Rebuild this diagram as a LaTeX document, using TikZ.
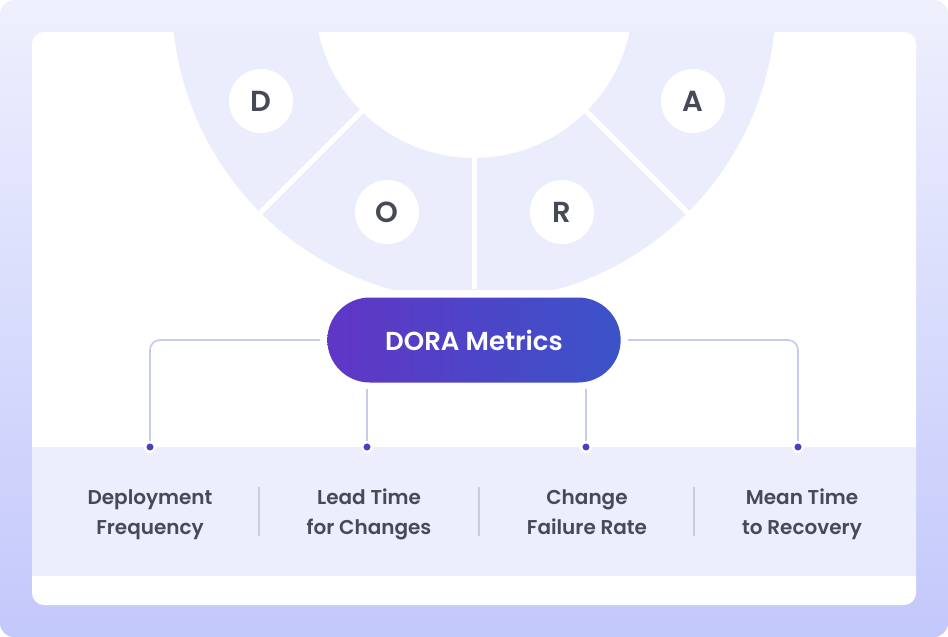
\documentclass[tikz,border=0pt]{standalone}
\usepackage{fontspec}
\setmainfont{Poppins}
\newfontfamily\semifont{Poppins SemiBold}
\usetikzlibrary{shapes.misc, calc, positioning}

\definecolor{bgtop}{HTML}{EEF0FD}
\definecolor{bgbot}{HTML}{C3C8FB}
\definecolor{ringc}{HTML}{EBEDFC}
\definecolor{bandc}{HTML}{ECEEFD}
\definecolor{ink}{HTML}{464A56}
\definecolor{linkc}{HTML}{C6CAEB}
\definecolor{dotc}{HTML}{4A3FC2}
\definecolor{sepc}{HTML}{C9CCD9}
\definecolor{pillL}{HTML}{6036C6}
\definecolor{pillR}{HTML}{3B53C8}

\begin{document}
\begin{tikzpicture}[x=1pt, y=-1pt,
    letter/.style={circle, fill=white, minimum size=64pt, inner sep=0pt, text=ink,
      font=\semifont\fontsize{29}{29}\selectfont},
    pill/.style={rounded rectangle, minimum width=300pt, minimum height=85pt,
      left color=pillL, right color=pillR, text=white,
      font=\semifont\fontsize{26}{26}\selectfont},
    metric/.style={align=center, inner sep=0pt, text=ink,
      font=\semifont\fontsize{20}{30}\selectfont},
    dot/.style={circle, fill=dotc, draw=white, line width=2.5pt, minimum size=10pt, inner sep=0pt},
    link/.style={draw=linkc, line width=1.6pt, rounded corners=10pt},
    gap/.style={draw=white, line width=5pt},
    sep/.style={draw=sepc, line width=1.4pt}]
    \useasboundingbox (0,0) rectangle (948,637);
    \fill[white] (0,0) rectangle (948,637);
    \shade[top color=bgtop, bottom color=bgbot, rounded corners=14pt] (0,0) rectangle (948,637);
    \fill[white, rounded corners=12pt] (32,32) rectangle (916,605);

    % the half ring
    \coordinate (hub) at (474,-1);
    \begin{scope}
        \clip (32,32) rectangle (916,289);
        \fill[ringc, even odd rule] (hub) circle[radius=302] (hub) circle[radius=159];
    \end{scope}
    \draw[gap] (hub) ++(135:150) -- ++(135:165);
    \draw[gap] (hub) ++(45:150) -- ++(45:165);
    \draw[gap] (hub) ++(90:150) -- ++(90:140);

    \node[letter] (Nd) at (261,101) {D};
    \node[letter] (No) at (387,212) {O};
    \node[letter] (Nr) at (562,212) {R};
    \node[letter] (Na) at (693,101) {A};

    \node[pill] (dora) at (474,340) {DORA Metrics};

    % bottom band
    \fill[bandc] (32,447) rectangle (916,576);
    \foreach \x in {259,479,694}
        \draw[sep] (\x,487) -- (\x,536);

    \node[dot] (dot1) at (150,447) {};
    \node[dot] (dot2) at (367,447) {};
    \node[dot] (dot3) at (586,447) {};
    \node[dot] (dot4) at (798,447) {};

    \draw[link] ([xshift=-7pt]dora.west) -| (dot1);
    \draw[link] ([xshift=7pt]dora.east) -| (dot4);
    \draw[link] ([yshift=-6pt]dot2 |- dora.south) -- (dot2);
    \draw[link] ([yshift=-6pt]dot3 |- dora.south) -- (dot3);

    \node[metric] (m1) at (150,513) {\strut Deployment\\Frequency\strut};
    \node[metric] (m2) at (369,513) {\strut Lead Time\\for Changes\strut};
    \node[metric] (m3) at (587,513) {\strut Change\\Failure Rate\strut};
    \node[metric] (m4) at (802,513) {\strut Mean Time\\to Recovery\strut};
\end{tikzpicture}
\end{document}
